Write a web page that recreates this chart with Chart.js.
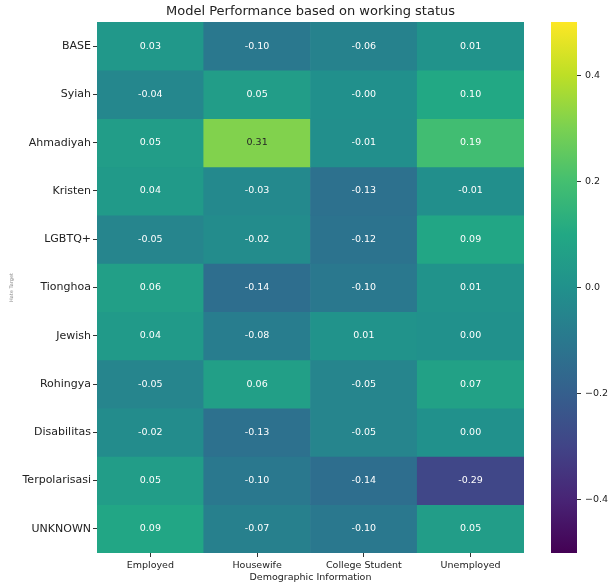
<!DOCTYPE html>
<html>
<head>
<meta charset="utf-8">
<script src="https://cdn.jsdelivr.net/npm/chart.js@4"></script>
<style>
    body { margin: 0; background: #fff; }
    #wrap { position: relative; width: 611px; height: 585px; }
    canvas { position: absolute; left: 0; top: 0; }
</style>
</head>
<body>
<div id="wrap">
    <canvas id="heatCanvas" width="611" height="585"></canvas>
    <canvas id="barCanvas" width="611" height="585"></canvas>
</div>
<script>
// _+_+_+_+_+ DATA _+_+_+_+_+
const rowLabels = ['BASE', 'Syiah', 'Ahmadiyah', 'Kristen', 'LGBTQ+', 'Tionghoa', 'Jewish', 'Rohingya', 'Disabilitas', 'Terpolarisasi', 'UNKNOWN'];
const colLabels = ['Employed', 'Housewife', 'College Student', 'Unemployed'];

const baseRow = [0.03, -0.10, -0.06, 0.01];
const syiahRow = [-0.04, 0.05, -0.004, 0.10];
const ahmadiyahRow = [0.05, 0.31, -0.01, 0.19];
const kristenRow = [0.04, -0.03, -0.13, -0.01];
const lgbtqRow = [-0.05, -0.02, -0.12, 0.09];
const tionghoaRow = [0.06, -0.14, -0.10, 0.01];
const jewishRow = [0.04, -0.08, 0.01, 0.00];
const rohingyaRow = [-0.05, 0.06, -0.05, 0.07];
const disabilitasRow = [-0.02, -0.13, -0.05, 0.00];
const terpolarisasiRow = [0.05, -0.10, -0.14, -0.29];
const unknownRow = [0.09, -0.07, -0.10, 0.05];

const cellValues = [baseRow, syiahRow, ahmadiyahRow, kristenRow, lgbtqRow, tionghoaRow,
    jewishRow, rohingyaRow, disabilitasRow, terpolarisasiRow, unknownRow];

const vmin = -0.5;
const vmax = 0.5;
const colorbarTicks = [-0.4, -0.2, 0.0, 0.2, 0.4];

// _+_+_+_+_+ VIRIDIS _+_+_+_+_+
const viridisStops = ['#440154', '#482475', '#414487', '#355f8d', '#2a788e', '#21918c',
    '#22a884', '#44bf70', '#7ad151', '#bddf26', '#fde725'];

function hexToRgb(h) {
    return [parseInt(h.slice(1, 3), 16), parseInt(h.slice(3, 5), 16), parseInt(h.slice(5, 7), 16)];
}

function viridisRgb(v) {
    let t = (v - vmin) / (vmax - vmin);
    t = Math.max(0, Math.min(1, t));
    const pos = t * (viridisStops.length - 1);
    const i = Math.min(Math.floor(pos), viridisStops.length - 2);
    const f = pos - i;
    const a = hexToRgb(viridisStops[i]);
    const b = hexToRgb(viridisStops[i + 1]);
    return a.map((c, k) => Math.round(c + (b[k] - c) * f));
}

function viridis(v) {
    const [r, g, b] = viridisRgb(v);
    return `rgb(${r}, ${g}, ${b})`;
}

// seaborn picks dark text on light cells
function textColorFor(v) {
    const lin = viridisRgb(v).map(c => {
        c = c / 255;
        return c <= 0.03928 ? c / 12.92 : Math.pow((c + 0.055) / 1.055, 2.4);
    });
    const lum = 0.2126 * lin[0] + 0.7152 * lin[1] + 0.0722 * lin[2];
    return lum > 0.408 ? '#262626' : '#ffffff';
}

const fmt = v => v.toFixed(2);

// _+_+_+_+_+ CELL LABELS PLUGIN _+_+_+_+_+
const cellTextPlugin = {
    id: 'cellText',
    afterDatasetsDraw(chart) {
        const ctx = chart.ctx;
        ctx.save();
        ctx.font = '9.5px "DejaVu Sans"';
        ctx.textAlign = 'center';
        ctx.textBaseline = 'middle';
        chart.data.datasets.forEach((ds, r) => {
            const meta = chart.getDatasetMeta(r);
            meta.data.forEach((el, c) => {
                const v = ds.values[c];
                ctx.fillStyle = textColorFor(v);
                ctx.fillText(fmt(v), el.x, (el.y + el.base) / 2);
            });
        });
        ctx.restore();
    }
};

// _+_+_+_+_+ HEATMAP _+_+_+_+_+
const heatDatasets = cellValues.map((row, r) => ({
    label: rowLabels[r],
    data: row.map(() => 1),
    values: row,
    backgroundColor: row.map(viridis),
    borderWidth: 0,
    barPercentage: 1,
    categoryPercentage: 1
}));

new Chart(document.getElementById('heatCanvas'), {
    type: 'bar',
    data: { labels: colLabels, datasets: heatDatasets },
    options: {
        responsive: false,
        animation: false,
        layout: { padding: { left: 0, right: 87, top: 0, bottom: 0 } },
        plugins: {
            legend: { display: false },
            tooltip: { enabled: false },
            title: { display: false }
        },
        scales: {
            x: {
                stacked: true,
                border: { display: false },
                grid: { display: true, drawOnChartArea: false, offset: false, tickLength: 4, color: '#333' },
                ticks: { color: '#222', font: { family: 'DejaVu Sans', size: 9.5 }, padding: 3, maxRotation: 0 },
                title: {
                    display: true,
                    text: 'Demographic Information',
                    color: '#222',
                    font: { family: 'DejaVu Sans', size: 9.5 },
                    padding: { top: 0, bottom: 2 }
                },
                afterFit(scale) { scale.height = 32; }
            },
            // top axis only carries the chart title so it centres over the cells
            xTop: {
                type: 'category',
                labels: colLabels,
                position: 'top',
                border: { display: false },
                grid: { display: false },
                ticks: { display: false },
                title: {
                    display: true,
                    text: 'Model Performance based on working status',
                    color: '#222',
                    font: { family: 'DejaVu Sans', size: 13 },
                    padding: { top: 4, bottom: 0 }
                },
                afterFit(scale) { scale.height = 22; }
            },
            y: {
                stacked: true,
                display: false,
                min: 0,
                max: rowLabels.length,
                reverse: true
            },
            yLabels: {
                type: 'category',
                labels: rowLabels,
                position: 'left',
                offset: true,
                border: { display: false },
                grid: { display: true, drawOnChartArea: false, offset: false, tickLength: 4, color: '#333' },
                ticks: { color: '#222', font: { family: 'DejaVu Sans', size: 11 }, padding: 2 },
                title: {
                    display: true,
                    text: 'Hate Target',
                    color: '#888',
                    font: { family: 'DejaVu Sans', size: 5 },
                    padding: { top: 9, bottom: 0 }
                },
                afterFit(scale) { scale.width = 97; }
            }
        }
    },
    plugins: [cellTextPlugin]
});

// _+_+_+_+_+ COLORBAR _+_+_+_+_+
new Chart(document.getElementById('barCanvas'), {
    type: 'bar',
    data: {
        labels: ['colorbar'],
        datasets: [{
            data: [[vmin, vmax]],
            backgroundColor(context) {
                const chart = context.chart;
                const yScale = chart.scales.y;
                if (!chart.chartArea || !yScale) return viridisStops[5];
                const g = chart.ctx.createLinearGradient(0, yScale.getPixelForValue(vmin), 0, yScale.getPixelForValue(vmax));
                viridisStops.forEach((c, i) => g.addColorStop(i / (viridisStops.length - 1), c));
                return g;
            },
            borderWidth: 0,
            barPercentage: 1,
            categoryPercentage: 1
        }]
    },
    options: {
        responsive: false,
        animation: false,
        layout: { padding: { left: 551, right: 0, top: 22, bottom: 32 } },
        plugins: {
            legend: { display: false },
            tooltip: { enabled: false }
        },
        scales: {
            x: { display: false },
            y: {
                position: 'right',
                min: vmin,
                max: vmax,
                border: { display: false },
                grid: { display: true, drawOnChartArea: false, tickLength: 4, color: '#333' },
                ticks: {
                    color: '#222',
                    font: { family: 'DejaVu Sans', size: 9.5 },
                    padding: 4,
                    callback: v => v.toFixed(1).replace('-', '\u2212')
                },
                afterBuildTicks(scale) { scale.ticks = colorbarTicks.map(v => ({ value: v })); },
                afterFit(scale) { scale.width = 34; }
            }
        }
    }
});
</script>
</body>
</html>
